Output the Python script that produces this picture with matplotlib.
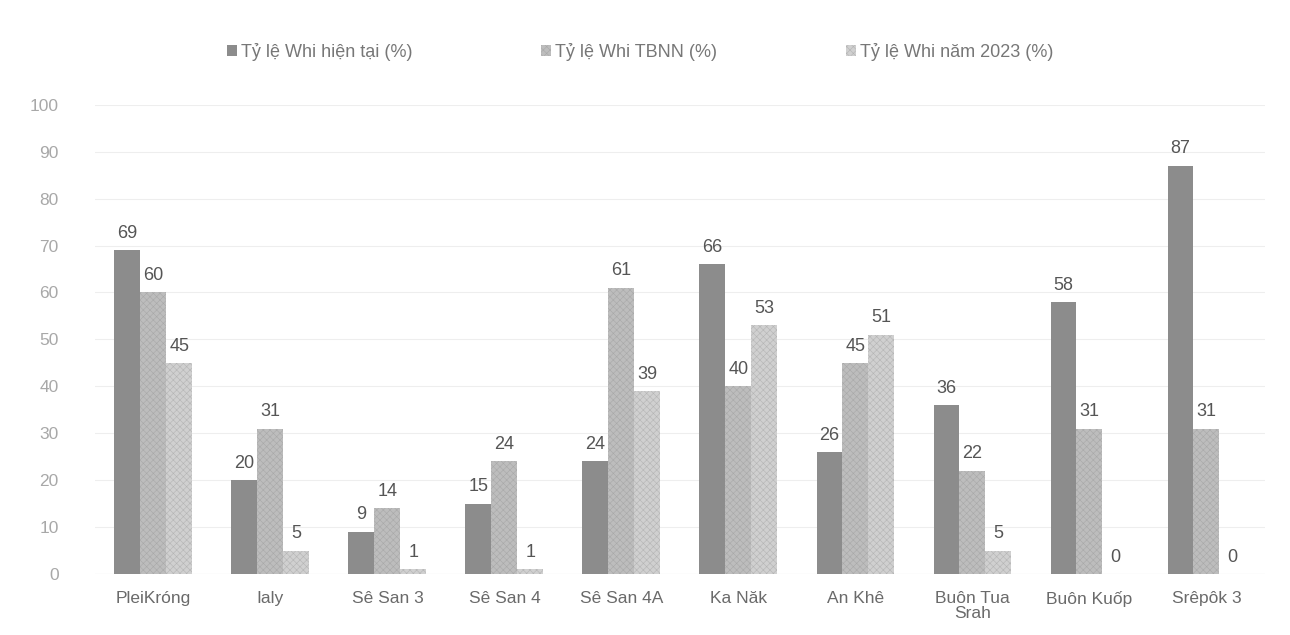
import numpy as np
import matplotlib.pyplot as plt

categories = ["PleiKróng", "Ialy", "Sê San 3", "Sê San 4", "Sê San 4A",
              "Ka Năk", "An Khê", "Buôn Tua\nSrah", "Buôn Kuốp", "Srêpôk 3"]
hien_tai = [69, 20, 9, 15, 24, 66, 26, 36, 58, 87]
tbnn = [60, 31, 14, 24, 61, 40, 45, 22, 31, 31]
nam_2023 = [45, 5, 1, 1, 39, 53, 51, 5, 0, 0]
series_names = ["Tỷ lệ Whi hiện tại (%)", "Tỷ lệ Whi TBNN (%)", "Tỷ lệ Whi năm 2023 (%)"]

plt.rcParams['font.family'] = ['Liberation Sans', 'DejaVu Sans']
plt.rcParams['hatch.linewidth'] = 0.4

fig = plt.figure(figsize=(12.9, 6.35), dpi=100)
ax = fig.add_axes([0.0736, 0.096, 0.907, 0.739])

x = np.arange(len(categories))
w = 0.222
styles = [
    dict(color="#8c8c8c", hatch=None, hc="#8c8c8c"),
    dict(color="#bdbdbd", hatch="xxxxx", hc="#a8a8a8"),
    dict(color="#d0d0d0", hatch="xxxxx", hc="#b4b4b4"),
]
for i, (vals, st, name) in enumerate(zip([hien_tai, tbnn, nam_2023], styles, series_names)):
    bars = ax.bar(x + (i - 1) * w, vals, w, color=st["color"], edgecolor=st["hc"],
                  hatch=st["hatch"], linewidth=0, label=name, zorder=2)
    ax.bar_label(bars, padding=6, fontsize=13, color="#555555")

ax.set_xlim(-0.5, len(categories) - 0.5)
ax.set_ylim(0, 100)
ax.set_yticks(range(0, 101, 10))
ax.set_xticks(x)
ax.set_xticklabels(categories, fontsize=12.5, color="#6a6a6a", linespacing=1.0)
ax.tick_params(axis="y", labelsize=12.5, labelcolor="#a8a8a8", length=0, pad=26)
ax.tick_params(axis="x", length=0, pad=12)
ax.grid(axis="y", color="#eeeeee", linewidth=0.8, zorder=0)
for s in ax.spines.values():
    s.set_visible(False)
ax.axhline(0, color="#dddddd", linewidth=0.8, zorder=1)

leg = ax.legend(loc="center", bbox_to_anchor=(0.466, 1.112), ncol=3, frameon=False,
                fontsize=13, handlelength=0.55, handleheight=0.55, handletextpad=0.25,
                columnspacing=7.1)
for t in leg.get_texts():
    t.set_color("#777777")

fig.savefig("out.png", dpi=100)
